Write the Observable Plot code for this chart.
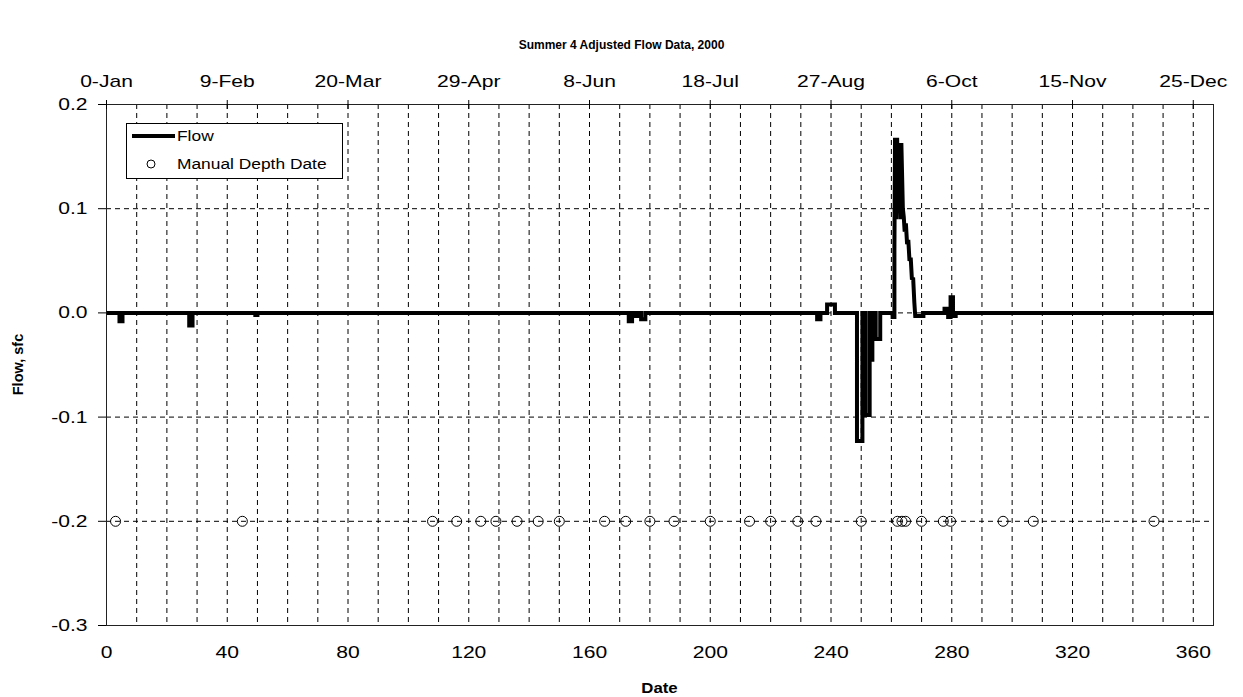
<!DOCTYPE html>
<html><head><meta charset="utf-8">
<script src="https://cdn.jsdelivr.net/npm/d3@7"></script>
<script src="https://cdn.jsdelivr.net/npm/@observablehq/plot@0.6"></script>
<style>
body{margin:0;background:#fff;}
#wrap{width:1243px;height:697px;}
</style></head><body><div id="wrap"></div>
<script>
// ---- data ----
const flowDays = [0,4.3,4.3,5.3,5.3,27.4,27.4,28.5,28.5,49.3,49.3,50.0,50.0,
  173.0,173.0,174.1,174.1,175.4,175.4,176.5,176.5,177.1,177.1,178.5,178.5,
  235.4,235.4,236.5,236.5,238.7,238.7,241.3,241.3,
  248.6,248.6,250.4,250.4,251.4,251.4,252.8,252.8,253.1,253.1,253.7,253.7,254.8,254.8,256.3,256.3,
  260.4,260.4,261.0,261.0,261.2,261.6,261.9,262.3,262.5,263.0,263.3,263.8,264.1,264.4,264.8,265.2,265.6,266.0,266.4,266.8,267.2,267.6,267.9,270.6,270.6,
  277.6,277.6,278.8,278.8,279.6,279.6,280.4,280.4,281.3,281.3,366.7];
const flowValues = [0,0,-0.008,-0.008,0,0,-0.012,-0.012,0,0,-0.002,-0.002,0,
  0,-0.008,-0.008,0,0,-0.003,-0.003,0,0,-0.006,-0.006,0,
  0,-0.006,-0.006,0,0,0.008,0.008,0,
  0,-0.123,-0.123,0,0,-0.098,-0.098,0,0,-0.045,-0.045,0,0,-0.025,-0.025,0,
  0,-0.004,-0.004,0.06,0.168,0.09,0.168,0.10,0.163,0.09,0.163,0.10,0.092,0.078,0.086,0.066,0.07,0.05,0.053,0.032,0.034,0.01,-0.003,-0.003,0,
  0,0.004,0.004,-0.004,-0.004,0.015,0.015,-0.003,-0.003,0,0];
const manualDays = [3,45,108,116,124,129,136,143,150,165,172,180,188,200,213,220,229,235,250,262,263.5,264.7,270,277.2,279.6,297,307,347];
const manualLevel = -0.2;
const xTicks = [0,40,80,120,160,200,240,280,320,360];
const dateLabels = ["0-Jan","9-Feb","20-Mar","29-Apr","8-Jun","18-Jul","27-Aug","6-Oct","15-Nov","25-Dec"];
const yTicks = [-0.3,-0.2,-0.1,0.0,0.1,0.2];
const yGrid = [-0.2,-0.1,0.0,0.1];
const xGrid = [10,20,30,40,50,60,70,80,90,100,110,120,130,140,150,160,170,180,190,200,210,220,230,240,250,260,270,280,290,300,310,320,330,340,350,360];
const titleText = "Summer 4 Adjusted Flow Data, 2000";
const xTitle = "Date";
const yTitle = "Flow, sfc";
const legendItems = ["Flow","Manual Depth Date"];

const flow = flowDays.map((d,i)=>({day:d, flow:flowValues[i]}));
const manual = manualDays.map(d=>({day:d, flow:manualLevel}));

const W = 1243, H = 697;
const mL = 106, mR = 30, mT = 104, mB = 72;
const frameH = H - mT - mB;
const FONT = "'Liberation Sans', Arial, sans-serif";

const chart = Plot.plot({
  width: W, height: H,
  marginLeft: mL, marginRight: mR, marginTop: mT, marginBottom: mB,
  style: {fontFamily: FONT, fontSize: "17px", background: "#fff", color: "#000"},
  x: {domain: [0, 366.7]},
  y: {domain: [-0.3, 0.2]},
  marks: [
    Plot.ruleX(xGrid, {x: d=>d, stroke: "#000", strokeWidth: 1, strokeDasharray: "5,4"}),
    Plot.ruleY(yGrid, {y: d=>d, stroke: "#000", strokeWidth: 1, strokeDasharray: "5,4"}),
    Plot.frame({stroke: "#222", strokeWidth: 1}),
    Plot.tickX(xTicks, {x: d=>d, stroke: "#000", insetBottom: frameH - 5}),
    Plot.axisY({ticks: yTicks, tickFormat: d => d.toFixed(1), tickSize: 8, tickPadding: 11, label: null, fontSize: 17}),
    Plot.axisX({anchor: "bottom", ticks: xTicks, tickSize: 0, tickPadding: 20, label: null, fontSize: 17}),
    Plot.axisX({anchor: "top", ticks: xTicks, tickFormat: d => dateLabels[xTicks.indexOf(d)], tickSize: 5, tickPadding: 13, label: null, fontSize: 17}),
    Plot.dot(manual, {x: "day", y: "flow", r: 5, stroke: "#000", strokeWidth: 1, fill: "none"}),
    Plot.line(flow, {x: "day", y: "flow", stroke: "#000", strokeWidth: 4, strokeLinejoin: "miter", strokeLinecap: "butt", strokeMiterlimit: 2})
  ]
});
document.getElementById("wrap").appendChild(chart);

// horizontal stretch of tick text (reference glyphs are ~1.24x wider)
chart.querySelectorAll("text").forEach(t => {
  const len = t.getComputedTextLength();
  if (len > 0) {
    t.setAttribute("textLength", (len * 1.24).toFixed(1));
    t.setAttribute("lengthAdjust", "spacingAndGlyphs");
  }
});

const svg = d3.select(chart);
// titles
const tg = svg.append("g").attr("font-family", FONT).attr("font-weight", "bold").attr("fill", "#000").attr("text-anchor", "middle");
tg.append("text").attr("x", W/2).attr("y", 45).attr("dy", "0.35em").attr("font-size", 12).text(titleText);
const xt = tg.append("text").attr("x", mL + (W - mL - mR)/2).attr("y", 688).attr("dy", "0.35em").attr("font-size", 14).text(xTitle);
xt.attr("textLength", (xt.node().getComputedTextLength()*1.2).toFixed(1)).attr("lengthAdjust", "spacingAndGlyphs");
tg.append("text").attr("transform", `translate(18,${mT + frameH/2}) rotate(-90)`).attr("dy", "0.35em").attr("font-size", 14.5).text(yTitle);

// legend box
const lg = svg.append("g").attr("font-family", FONT).attr("font-size", 14).attr("text-anchor", "start").attr("fill", "#000");
lg.append("rect").attr("x", 126.5).attr("y", 123.5).attr("width", 216).attr("height", 55).attr("fill", "#fff").attr("stroke", "#000");
lg.append("line").attr("x1", 132).attr("x2", 175).attr("y1", 136).attr("y2", 136).attr("stroke", "#000").attr("stroke-width", 4);
lg.append("circle").attr("cx", 151).attr("cy", 164).attr("r", 4).attr("fill", "none").attr("stroke", "#000");
legendItems.forEach((s, i) => {
  const t = lg.append("text").attr("x", 177).attr("y", i ? 164 : 136).attr("dy", "0.35em").text(s);
  t.attr("textLength", (t.node().getComputedTextLength()*1.24).toFixed(1)).attr("lengthAdjust", "spacingAndGlyphs");
});
</script></body></html>
